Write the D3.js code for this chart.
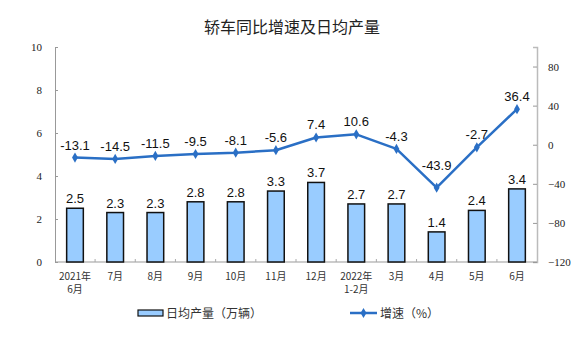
<!DOCTYPE html>
<html><head><meta charset="utf-8">
<script src="https://cdn.jsdelivr.net/npm/d3@7"></script>
<style>body{margin:0;background:#fff}svg{display:block}</style>
</head><body>
<svg id="c" width="575" height="357"></svg>
<script>
const categories = [["2021年","6月"],["7月"],["8月"],["9月"],["10月"],["11月"],["12月"],["2022年","1-2月"],["3月"],["4月"],["5月"],["6月"]];
const output = [2.5,2.3,2.3,2.8,2.8,3.3,3.7,2.7,2.7,1.4,2.4,3.4];
const growth = [-13.1,-14.5,-11.5,-9.5,-8.1,-5.6,7.4,10.6,-4.3,-43.9,-2.7,36.4];
const leftTicks = [0,2,4,6,8,10];
const rightTicks = [-120,-80,-40,0,40,80];
const title = "轿车同比增速及日均产量";
const legendBar = "日均产量（万辆）";
const legendLine = "增速（%）";

const svg = d3.select("#c");
const L = 55, R = 537, T = 47, B = 262;
const idx = categories.map((d,i)=>i);
const x = d3.scaleBand().domain(idx).range([L,R]).paddingInner(0.585).paddingOuter(0.29);
const yL = d3.scaleLinear().domain([0,10]).range([B,T]);
const yR = d3.scaleLinear().domain([-120,100]).range([B,T]);
const cx = i => x(i) + x.bandwidth()/2;
const lineColor = "#2a6fc5";
const sans = "'Liberation Sans', Arial, sans-serif";
const serif = "'Liberation Serif', 'Times New Roman', serif";
const cjk = "'Noto Sans CJK SC', sans-serif";

svg.append("text").attr("x",292).attr("y",33).attr("text-anchor","middle")
  .attr("font-family",cjk).attr("font-size",16).attr("fill","#222").text(title);

// left axis
const gl = svg.append("g").attr("transform",`translate(${L},0)`)
  .call(d3.axisLeft(yL).tickValues(leftTicks).tickSize(-3).tickPadding(13).tickFormat(d3.format("d")));
gl.select(".domain").attr("stroke","#999");
gl.selectAll(".tick line").attr("stroke","#999");
gl.selectAll("text").attr("font-family",serif).attr("font-size",11).attr("fill","#222");

// right axis
const gr = svg.append("g").attr("transform",`translate(${R},0)`)
  .call(d3.axisRight(yR).tickValues(rightTicks).tickSize(-4).tickPadding(11).tickFormat(d3.format("d")));
gr.select(".domain").attr("stroke","#bbb").attr("stroke-width",1.5);
gr.selectAll(".tick line").attr("stroke","#999");
gr.selectAll("text").attr("font-family",serif).attr("font-size",11).attr("fill","#222");

// x axis baseline
svg.append("line").attr("x1",L).attr("x2",R).attr("y1",B).attr("y2",B).attr("stroke","#999");
const bounds = d3.range(1, categories.length).map(i => (cx(i-1)+cx(i))/2);
svg.selectAll(".xt").data(bounds).join("line").attr("class","xt")
  .attr("x1",d=>d).attr("x2",d=>d).attr("y1",B).attr("y2",B-3).attr("stroke","#aaa");

// x labels (one text element per line)
const xLines = categories.flatMap((d,i)=>d.map((s,j)=>({s,i,j})));
svg.selectAll(".xl").data(xLines).join("text").attr("class","xl")
  .attr("x",d=>cx(d.i)).attr("y",d=>280+d.j*13).attr("text-anchor","middle")
  .attr("font-family",cjk).attr("font-size",10).attr("fill","#333").text(d=>d.s);

// bars
svg.selectAll(".bar").data(output).join("rect").attr("class","bar")
  .attr("x",(d,i)=>x(i)).attr("width",x.bandwidth())
  .attr("y",d=>yL(d)).attr("height",d=>B-yL(d))
  .attr("fill","#99ccff").attr("stroke","#111").attr("stroke-width",1.5);
svg.selectAll(".bl").data(output).join("text").attr("class","bl")
  .attr("x",(d,i)=>cx(i)).attr("y",d=>yL(d)-5).attr("text-anchor","middle")
  .attr("font-family",sans).attr("font-size",13).attr("fill","#111").text(d=>d.toFixed(1));

// line
const line = d3.line().x((d,i)=>cx(i)).y(d=>yR(d));
svg.append("path").datum(growth).attr("d",line).attr("fill","none")
  .attr("stroke",lineColor).attr("stroke-width",2.5).attr("stroke-linejoin","round");
const diamond = d3.symbol().type(d3.symbolDiamond).size(30);
svg.selectAll(".pt").data(growth).join("path").attr("class","pt")
  .attr("transform",(d,i)=>`translate(${cx(i)},${yR(d)})`).attr("d",diamond).attr("fill",lineColor);
const isMin = (d,i)=> i>0 && i<growth.length-1 && d<growth[i-1] && d<growth[i+1] && (growth[i-1]-d)>20;
svg.selectAll(".ll").data(growth).join("text").attr("class","ll")
  .attr("x",(d,i)=>cx(i)).attr("y",(d,i)=>yR(d)-(isMin(d,i)?18:8)).attr("text-anchor","middle")
  .attr("font-family",sans).attr("font-size",13).attr("fill","#111").text(d=>d.toFixed(1));

// legend
svg.append("rect").attr("x",138).attr("y",310).attr("width",25).attr("height",6)
  .attr("fill","#99ccff").attr("stroke","#111").attr("stroke-width",1.2);
svg.append("text").attr("x",166).attr("y",317.5).attr("font-family",cjk).attr("font-size",12)
  .attr("fill","#333").text(legendBar);
svg.append("line").attr("x1",350).attr("x2",377).attr("y1",313).attr("y2",313)
  .attr("stroke",lineColor).attr("stroke-width",2.5);
svg.append("path").attr("transform","translate(363.5,313)").attr("d",diamond).attr("fill",lineColor);
svg.append("text").attr("x",380).attr("y",317.5).attr("font-family",cjk).attr("font-size",12)
  .attr("fill","#333").text(legendLine);
</script>
</body></html>
